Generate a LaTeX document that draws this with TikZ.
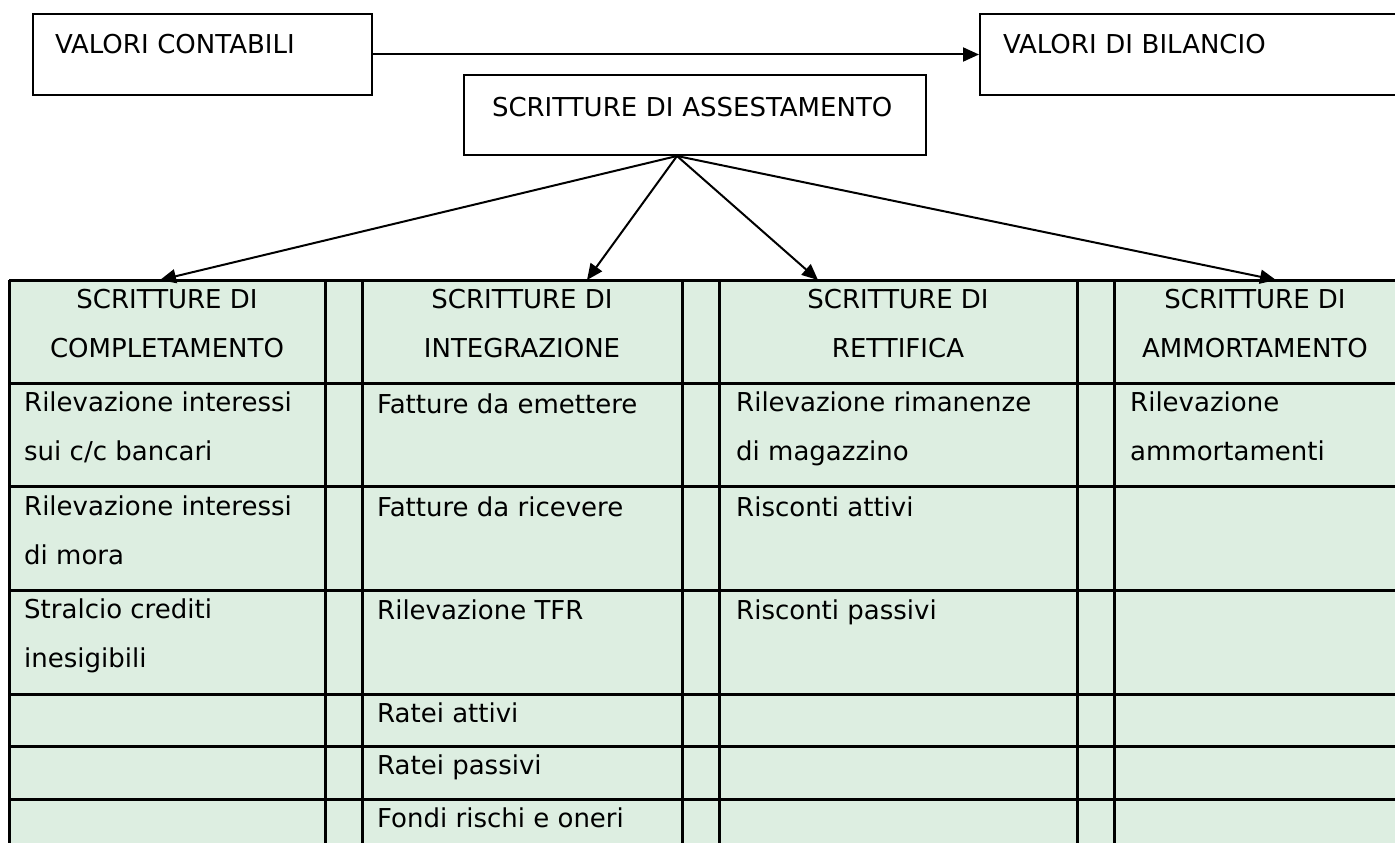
\documentclass[tikz,border=0pt]{standalone}
\usepackage{fontspec}
\setmainfont{DejaVu Sans}
\usetikzlibrary{arrows.meta}

\definecolor{cellgreen}{RGB}{221,238,225}

\tikzset{
  every node/.style={font=\fontsize{26}{49}\selectfont},
  box/.style={draw, line width=2pt, anchor=north west, align=left, inner ysep=0pt},
  arr/.style={line width=2pt, -{Triangle[length=16pt,width=14pt]}},
  tabline/.style={line width=3pt},
  head/.style={anchor=base, align=center, inner sep=0pt},
  cell/.style={anchor=base west, align=left, inner sep=0pt}
}

\begin{document}
\begin{tikzpicture}[x=1pt,y=-1pt]
  \clip (0,0) rectangle (1395,843);

  \node[box, text width=295pt, inner xsep=22pt, text height=40pt, text depth=41pt] (cont) at (32,13) {VALORI CONTABILI};
  \node[box, text width=420pt, inner xsep=23pt, text height=40pt, text depth=41pt] (bil) at (979,13) {VALORI DI BILANCIO};
  \node[box, text width=406pt, inner xsep=28pt, text height=41pt, text depth=39pt] (ass) at (463,74) {SCRITTURE DI ASSESTAMENTO};

  \draw[arr] (cont.east) -- (bil.west);

  \fill[cellgreen] (9,280) rectangle (1396,851);
  \foreach \x in {9,325,362,682,719,1077,1114,1396} {
    \draw[tabline] (\x,280) -- (\x,851);
  }
  \foreach \y in {280,383,486,590,694,746,799,851} {
    \draw[tabline] (9,\y) -- (1396,\y);
  }

  \foreach \c/\t[count=\i] in {167/COMPLETAMENTO, 522/INTEGRAZIONE, 898/RETTIFICA, 1255/AMMORTAMENTO} {
    \node[head] (h\i) at (\c,357) {SCRITTURE DI\\\t};
  }

  \foreach \x/\y/\t[count=\i] in {%
    24/460/{Rilevazione interessi\\sui c/c bancari},
    24/564/{Rilevazione interessi\\di mora},
    24/667/{Stralcio crediti\\inesigibili},
    377/413/{Fatture da emettere},
    377/516/{Fatture da ricevere},
    377/619/{Rilevazione TFR},
    377/722/{Ratei attivi},
    377/774/{Ratei passivi},
    377/827/{Fondi rischi e oneri},
    736/460/{Rilevazione rimanenze\\di magazzino},
    736/516/{Risconti attivi},
    736/619/{Risconti passivi},
    1130/460/{Rilevazione\\ammortamenti}} {
    \node[cell] (c\i) at (\x,\y) {\t};
  }

  \coordinate (apex) at ([xshift=-18pt]ass.south);
  \coordinate (t1) at (160,280);
  \coordinate (t2) at (587,280);
  \coordinate (t3) at (818,280);
  \coordinate (t4) at (1276,280);
  \foreach \i in {1,...,4} {
    \draw[arr] (apex) -- (t\i);
  }
\end{tikzpicture}
\end{document}
